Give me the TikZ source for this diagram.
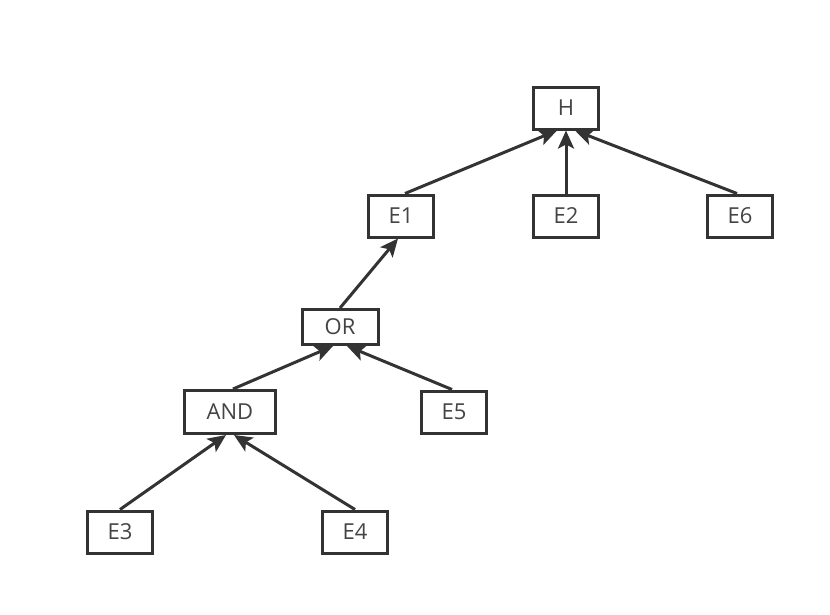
\documentclass[tikz,border=0pt]{standalone}
\usepackage{fontspec}
\setmainfont{Open Sans}
\usetikzlibrary{arrows.meta}
\definecolor{ln}{HTML}{333333}
\definecolor{tx}{HTML}{444444}
\begin{document}
\begin{tikzpicture}[x=1pt,y=-1pt,
  box/.style={draw=ln,line width=3pt,fill=white,text=tx,font=\fontsize{22}{25}\selectfont,minimum width=65pt,minimum height=42pt,inner sep=0pt},
  arr/.style={draw=ln,line width=3pt,-{Stealth[length=18pt,width=16pt,inset=4pt]}}]
\useasboundingbox (0,0) rectangle (830,614);
\node[box] (H) at (566,108) {H};
\node[box] (E1) at (401,216) {E1};
\node[box] (E2) at (566,216) {E2};
\node[box] (E6) at (740,216) {E6};
\node[box,minimum width=76pt,minimum height=35pt] (OR) at (340,327) {OR};
\node[box,minimum width=91pt,minimum height=43pt] (AND) at (230,412) {AND};
\node[box] (E5) at (454,412) {E5};
\node[box] (E3) at (120,532) {E3};
\node[box] (E4) at (355,532) {E4};
\draw[arr] ([xshift=4pt]E1.north) -- ([xshift=-9pt]H.south);
\draw[arr] (E2.north) -- (H.south);
\draw[arr] ([xshift=-3pt]E6.north) -- ([xshift=9pt]H.south);
\draw[arr] (OR.north) -- ([xshift=-3pt]E1.south);
\draw[arr] ([xshift=3pt]AND.north) -- ([xshift=-7pt]OR.south);
\draw[arr] ([xshift=-2pt]E5.north) -- ([xshift=7pt]OR.south);
\draw[arr] (E3.north) -- ([xshift=-4pt]AND.south);
\draw[arr] (E4.north) -- ([xshift=4pt]AND.south);
\end{tikzpicture}
\end{document}
